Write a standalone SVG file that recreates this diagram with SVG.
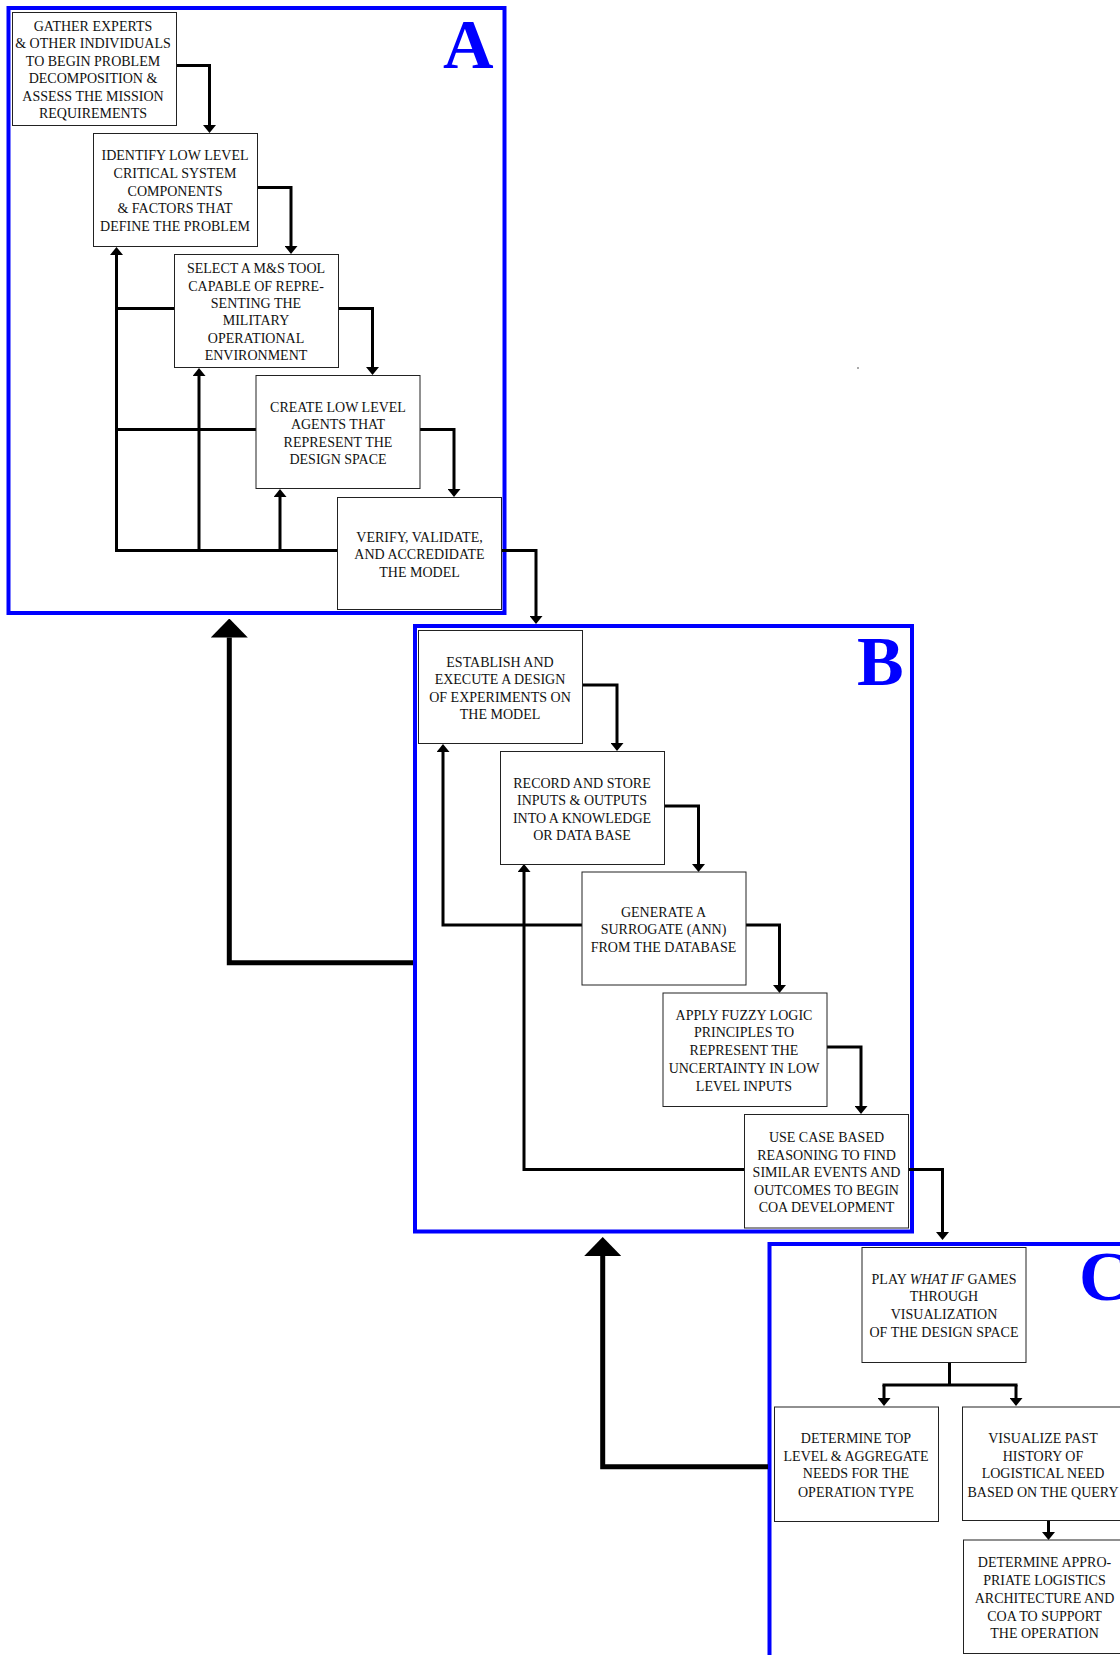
<svg xmlns="http://www.w3.org/2000/svg" width="1120" height="1655" viewBox="0 0 1120 1655">
<style>
.frame{fill:none;stroke:#0000FF;stroke-width:4}
.lbl{font-family:"Liberation Serif","Times New Roman",serif;font-weight:bold;font-size:70px;fill:#0000FF}
.box{fill:#fff;stroke:#222;stroke-width:1}
.t{font-family:"Liberation Serif","Times New Roman",serif;font-size:14px;fill:#111;text-anchor:middle}
.c{fill:none;stroke:#000;stroke-width:3}
.big{fill:none;stroke:#000;stroke-width:5}
</style>
<defs>
<marker id="ah" markerUnits="userSpaceOnUse" markerWidth="8" markerHeight="13" viewBox="0 0 8 13" refX="0" refY="6.5" orient="auto">
<path d="M0,0 L8,6.5 L0,13 Z" fill="#000"/>
</marker>
<marker id="bh" markerUnits="userSpaceOnUse" markerWidth="19" markerHeight="37" viewBox="0 0 19 37" refX="0" refY="18.5" orient="auto">
<path d="M0,0 L19,18.5 L0,37 Z" fill="#000"/>
</marker>
</defs>
<rect width="1120" height="1655" fill="#fff"/>

<g id="frames">
<rect class="frame" x="8.5" y="8" width="496" height="605"/>
<text class="lbl" x="443" y="68">A</text>
<rect class="frame" x="415" y="626" width="497" height="605.5"/>
<text class="lbl" x="857" y="685">B</text>
<rect class="frame" x="769.5" y="1244" width="497" height="605"/>
<text class="lbl" x="1079" y="1300">C</text>
</g>

<rect x="857" y="367" width="2" height="2" fill="#aaa"/>

<g id="connectors">
<path class="c" d="M176,65.5 H209.5 V125" marker-end="url(#ah)"/>
<path class="c" d="M257,187.5 H291 V246" marker-end="url(#ah)"/>
<path class="c" d="M338,308.5 H372.5 V367" marker-end="url(#ah)"/>
<path class="c" d="M420,429.5 H454 V489" marker-end="url(#ah)"/>
<path class="c" d="M337,550.5 H116.5 V255" marker-end="url(#ah)"/>
<path class="c" d="M199,550.5 V376" marker-end="url(#ah)"/>
<path class="c" d="M280,550.5 V497" marker-end="url(#ah)"/>
<path class="c" d="M174,308.5 H116.5"/>
<path class="c" d="M256,429.5 H115"/>
<path class="c" d="M502,550.5 H536 V616" marker-end="url(#ah)"/>

<path class="c" d="M583,685 H617 V743" marker-end="url(#ah)"/>
<path class="c" d="M664,806 H698.5 V864" marker-end="url(#ah)"/>
<path class="c" d="M745,925 H779.5 V985" marker-end="url(#ah)"/>
<path class="c" d="M827,1047 H861 V1106" marker-end="url(#ah)"/>
<path class="c" d="M582,925 H443 V752" marker-end="url(#ah)"/>
<path class="c" d="M744,1169.5 H524 V872" marker-end="url(#ah)"/>
<path class="c" d="M909,1169.5 H942.5 V1232" marker-end="url(#ah)"/>

<path class="c" d="M949.5,1362 V1385"/>
<path class="c" d="M882.5,1385 H1017.5"/>
<path class="c" d="M884,1385 V1398" marker-end="url(#ah)"/>
<path class="c" d="M1016,1385 V1398" marker-end="url(#ah)"/>
<path class="c" d="M1048.5,1521 V1532" marker-end="url(#ah)"/>

<path class="big" d="M413,962.7 H229.3 V637.5" marker-end="url(#bh)"/>
<path class="big" d="M768,1466.8 H602.7 V1256" marker-end="url(#bh)"/>
</g>

<g id="a1"><rect class="box" x="12.5" y="12.5" width="164" height="113"/>
<text class="t"><tspan x="93" y="30.5">GATHER EXPERTS</tspan><tspan x="93" y="48">&amp; OTHER INDIVIDUALS</tspan><tspan x="93" y="65.5">TO BEGIN PROBLEM</tspan><tspan x="93" y="83">DECOMPOSITION &amp;</tspan><tspan x="93" y="100.5">ASSESS THE MISSION</tspan><tspan x="93" y="118">REQUIREMENTS</tspan></text></g>

<g id="a2"><rect class="box" x="93.5" y="133.5" width="164" height="113"/>
<text class="t"><tspan x="175" y="160">IDENTIFY LOW LEVEL</tspan><tspan x="175" y="177.5">CRITICAL SYSTEM</tspan><tspan x="175" y="195.5">COMPONENTS</tspan><tspan x="175" y="213">&amp; FACTORS THAT</tspan><tspan x="175" y="230.5">DEFINE THE PROBLEM</tspan></text></g>

<g id="a3"><rect class="box" x="174.5" y="254.5" width="164" height="113"/>
<text class="t"><tspan x="256" y="273">SELECT A M&amp;S TOOL</tspan><tspan x="256" y="290.5">CAPABLE OF REPRE-</tspan><tspan x="256" y="308">SENTING THE</tspan><tspan x="256" y="325">MILITARY</tspan><tspan x="256" y="342.5">OPERATIONAL</tspan><tspan x="256" y="360">ENVIRONMENT</tspan></text></g>

<g id="a4"><rect class="box" x="256" y="375.5" width="164" height="113"/>
<text class="t"><tspan x="338" y="411.5">CREATE LOW LEVEL</tspan><tspan x="338" y="429">AGENTS THAT</tspan><tspan x="338" y="446.5">REPRESENT THE</tspan><tspan x="338" y="464">DESIGN SPACE</tspan></text></g>

<g id="a5"><rect class="box" x="337.5" y="497.5" width="164" height="112"/>
<text class="t"><tspan x="419.5" y="541.5">VERIFY, VALIDATE,</tspan><tspan x="419.5" y="559">AND ACCREDIDATE</tspan><tspan x="419.5" y="576.5">THE MODEL</tspan></text></g>

<g id="b1"><rect class="box" x="418.5" y="630.5" width="164" height="113"/>
<text class="t"><tspan x="500" y="666.5">ESTABLISH AND</tspan><tspan x="500" y="684">EXECUTE A DESIGN</tspan><tspan x="500" y="701.5">OF EXPERIMENTS ON</tspan><tspan x="500" y="719">THE MODEL</tspan></text></g>

<g id="b2"><rect class="box" x="500.5" y="751.5" width="164" height="113"/>
<text class="t"><tspan x="582" y="787.5">RECORD AND STORE</tspan><tspan x="582" y="805">INPUTS &amp; OUTPUTS</tspan><tspan x="582" y="822.5">INTO A KNOWLEDGE</tspan><tspan x="582" y="840">OR DATA BASE</tspan></text></g>

<g id="b3"><rect class="box" x="582" y="872" width="164" height="113"/>
<text class="t"><tspan x="663.5" y="916.5">GENERATE A</tspan><tspan x="663.5" y="934">SURROGATE (ANN)</tspan><tspan x="663.5" y="952">FROM THE DATABASE</tspan></text></g>

<g id="b4"><rect class="box" x="663" y="993" width="164" height="113.5"/>
<text class="t"><tspan x="744" y="1019.5">APPLY FUZZY LOGIC</tspan><tspan x="744" y="1037">PRINCIPLES TO</tspan><tspan x="744" y="1055">REPRESENT THE</tspan><tspan x="744" y="1073">UNCERTAINTY IN LOW</tspan><tspan x="744" y="1090.5">LEVEL INPUTS</tspan></text></g>

<g id="b5"><rect class="box" x="744.5" y="1114.5" width="164" height="113.5"/>
<text class="t"><tspan x="826.5" y="1142">USE CASE BASED</tspan><tspan x="826.5" y="1159.5">REASONING TO FIND</tspan><tspan x="826.5" y="1177">SIMILAR EVENTS AND</tspan><tspan x="826.5" y="1194.5">OUTCOMES TO BEGIN</tspan><tspan x="826.5" y="1212">COA DEVELOPMENT</tspan></text></g>

<g id="c1"><rect class="box" x="862" y="1247.5" width="164" height="115"/>
<text class="t"><tspan x="944" y="1283.5">PLAY <tspan font-style="italic">WHAT IF</tspan> GAMES</tspan><tspan x="944" y="1301">THROUGH</tspan><tspan x="944" y="1318.5">VISUALIZATION</tspan><tspan x="944" y="1336.5">OF THE DESIGN SPACE</tspan></text></g>

<g id="c2"><rect class="box" x="774.5" y="1407" width="164" height="114.5"/>
<text class="t"><tspan x="856" y="1443">DETERMINE TOP</tspan><tspan x="856" y="1460.5">LEVEL &amp; AGGREGATE</tspan><tspan x="856" y="1478">NEEDS FOR THE</tspan><tspan x="856" y="1496.5">OPERATION TYPE</tspan></text></g>

<g id="c3"><rect class="box" x="962.5" y="1407" width="164" height="113.5"/>
<text class="t"><tspan x="1043" y="1443">VISUALIZE PAST</tspan><tspan x="1043" y="1460.5">HISTORY OF</tspan><tspan x="1043" y="1478">LOGISTICAL NEED</tspan><tspan x="1043" y="1496.5">BASED ON THE QUERY</tspan></text></g>

<g id="c4"><rect class="box" x="963.5" y="1540" width="164" height="113.5"/>
<text class="t"><tspan x="1044.5" y="1567">DETERMINE APPRO-</tspan><tspan x="1044.5" y="1585">PRIATE LOGISTICS</tspan><tspan x="1044.5" y="1603">ARCHITECTURE AND</tspan><tspan x="1044.5" y="1620.5">COA TO SUPPORT</tspan><tspan x="1044.5" y="1638">THE OPERATION</tspan></text></g>
</svg>
